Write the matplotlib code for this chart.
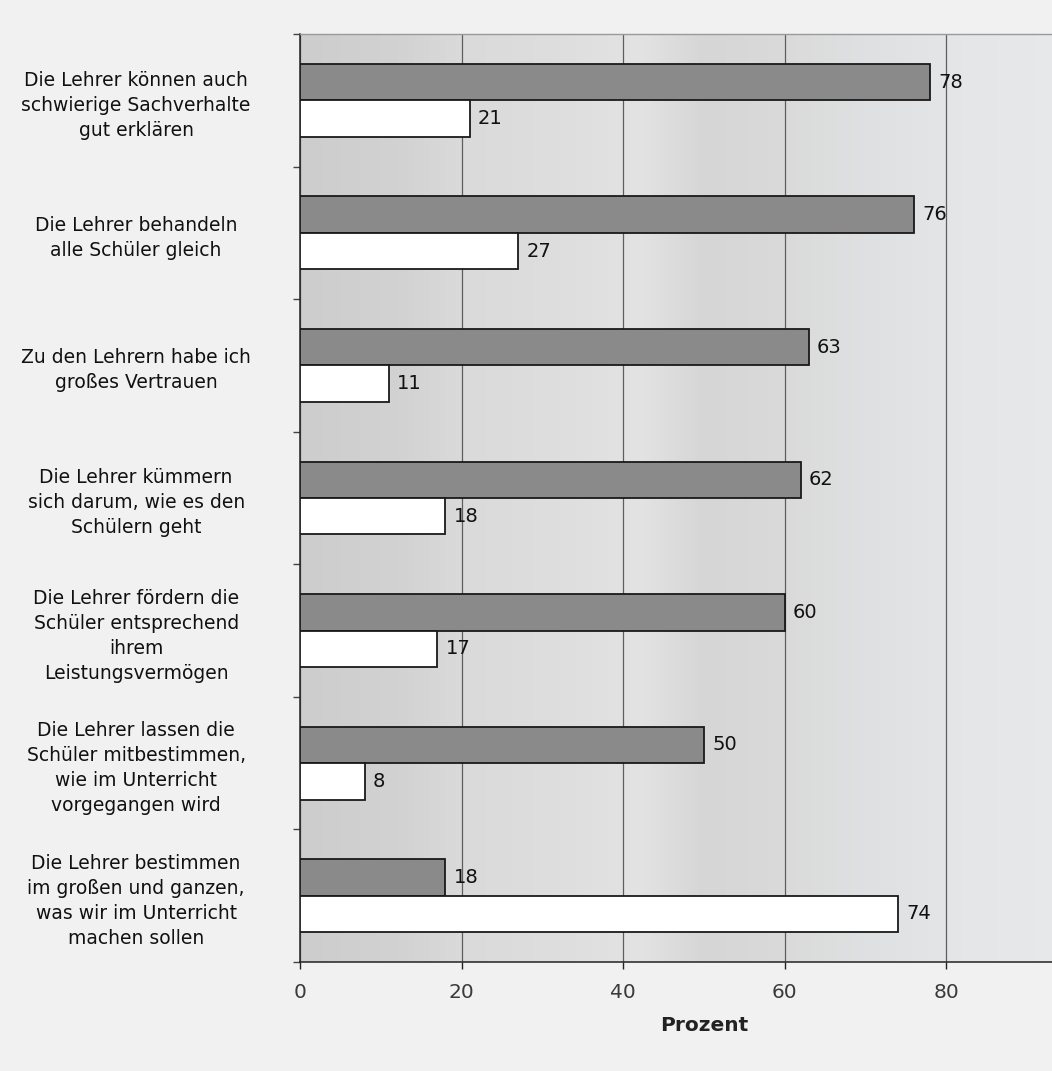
"""
Schülerurteile über ihre Lehrer: horizontale Balken, zwei Antwortgruppen je Aussage.
"""

import matplotlib.pyplot as plt
import numpy as np
from matplotlib.colors import LinearSegmentedColormap

STATEMENTS = [
    "Die Lehrer können auch\nschwierige Sachverhalte\ngut erklären",
    "Die Lehrer behandeln\nalle Schüler gleich",
    "Zu den Lehrern habe ich\ngroßes Vertrauen",
    "Die Lehrer kümmern\nsich darum, wie es den\nSchülern geht",
    "Die Lehrer fördern die\nSchüler entsprechend\nihrem\nLeistungsvermögen",
    "Die Lehrer lassen die\nSchüler mitbestimmen,\nwie im Unterricht\nvorgegangen wird",
    "Die Lehrer bestimmen\nim großen und ganzen,\nwas wir im Unterricht\nmachen sollen",
]
PCT_DARK = [78, 76, 63, 62, 60, 50, 18]
PCT_WHITE = [21, 27, 11, 18, 17, 8, 74]
X_TICKS = [0, 20, 40, 60, 80]

C_DARK = "#8a8a8a"
C_WHITE = "#ffffff"
C_GRID = "#5e5e5e"
FONT = 13.5


def draw_backdrop(ax) -> None:
    # soft vertical banding behind the bars
    stops = [
        (0.00, "#cdcdcd"), (0.12, "#d2d2d2"), (0.20, "#dadada"),
        (0.32, "#dedede"), (0.42, "#e3e3e3"), (0.50, "#d6d6d6"),
        (0.58, "#d9d9d9"), (0.70, "#dfe0e1"), (0.82, "#e4e6e8"),
        (1.00, "#e8eaec"),
    ]
    cmap = LinearSegmentedColormap.from_list("band", stops)
    grad = np.linspace(0, 1, 512).reshape(1, -1)
    ax.imshow(grad, cmap=cmap, aspect="auto", extent=(0, 100, -0.5, len(STATEMENTS) - 0.5),
              zorder=0, vmin=0, vmax=1)


def main() -> None:
    plt.rcParams.update({
        "font.family": ["DejaVu Sans"],
        "axes.unicode_minus": False,
    })
    fig = plt.figure(figsize=(10.52, 10.71), dpi=100)
    fig.patch.set_facecolor("#f1f1f1")
    # axes runs on past the right edge of the page, as in the printed original
    ax = fig.add_axes([0.2852, 0.1018, 0.768, 0.8665])

    n = len(STATEMENTS)
    ys = np.arange(n)
    h = 0.275

    draw_backdrop(ax)
    ax.barh(ys - h / 2, PCT_DARK, height=h, color=C_DARK, edgecolor="#1a1a1a",
            linewidth=1.3, zorder=3)
    ax.barh(ys + h / 2, PCT_WHITE, height=h, color=C_WHITE, edgecolor="#1a1a1a",
            linewidth=1.3, zorder=3)

    for y, v in zip(ys, PCT_DARK):
        ax.text(v + 1.0, y - h / 2, str(v), va="center", ha="left", fontsize=FONT + 0.5,
                color="#111111", zorder=4)
    for y, v in zip(ys, PCT_WHITE):
        ax.text(v + 1.0, y + h / 2, str(v), va="center", ha="left", fontsize=FONT + 0.5,
                color="#111111", zorder=4)

    ax.set_xlim(0, 100)
    ax.set_ylim(n - 0.5, -0.5)
    ax.set_xticks(X_TICKS)
    ax.set_xticklabels([str(t) for t in X_TICKS], fontsize=FONT + 1, color="#3a3a3a")
    ax.tick_params(axis="x", length=5, width=1, pad=10, color="#222222")

    ax.set_yticks(ys)
    ax.set_yticklabels(STATEMENTS, fontsize=FONT, ha="center", linespacing=1.4,
                       color="#111111")
    ax.tick_params(axis="y", length=0, pad=118)
    ax.set_yticks(np.arange(n + 1) - 0.5, minor=True)
    ax.tick_params(axis="y", which="minor", length=5, width=1, color="#444444")

    ax.xaxis.grid(True, color=C_GRID, linewidth=0.9, zorder=1)
    ax.set_axisbelow(True)
    ax.spines["right"].set_visible(False)
    ax.spines["top"].set_color("#9a9a9a")
    ax.spines["top"].set_linewidth(1.0)
    ax.spines["left"].set_color("#222222")
    ax.spines["bottom"].set_color("#222222")
    ax.spines["left"].set_linewidth(1.1)
    ax.spines["bottom"].set_linewidth(1.1)

    ax.set_xlabel("Prozent", fontsize=FONT + 1, fontweight="bold", color="#222222",
                  labelpad=10)

    fig.savefig("out.png", dpi=100, facecolor=fig.get_facecolor())
    plt.close(fig)


if __name__ == "__main__":
    main()
